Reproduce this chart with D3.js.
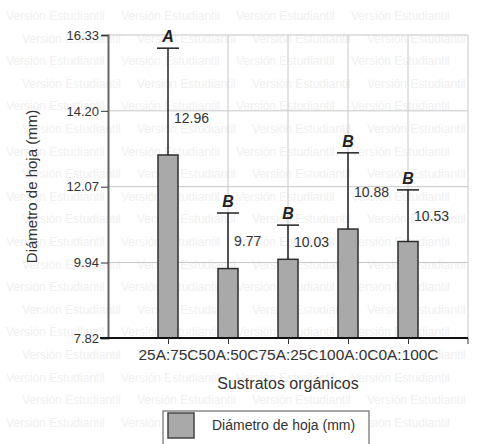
<!doctype html>
<html lang="es">
<head>
  <meta charset="utf-8">
  <title>Diámetro de hoja</title>
  <script src="https://d3js.org/d3.v7.min.js"></script>
  <style>
    body { margin: 0; background: #fff; }
    text { font-family: "Liberation Sans", Arial, sans-serif; }
  </style>
</head>
<body>
  <div id="chart"></div>
  <script type="text/javascript">

    var width = 480, height = 444;

    // datos
    var categories = ['25A:75C', '50A:50C', '75A:25C', '100A:0C', '0A:100C'];
    var means = [12.96, 9.77, 10.03, 10.88, 10.53];
    var errors = [3.00, 1.56, 0.96, 2.14, 1.45];
    var letters = ['A', 'B', 'B', 'B', 'B'];
    var yTicks = [7.82, 9.94, 12.07, 14.20, 16.33];

    var plotLeft = 108, plotRight = 468, plotTop = 35, plotBottom = 338;

    var svg = d3.select('#chart')
                .append('svg')
                .attr('width', width)
                .attr('height', height);

    // marca de agua de fondo (version estudiantil)
    var wm = svg.append('g').attr('fill', '#f0f0f0').attr('font-size', 12);
    for (var r = 0; r < 19; r++) {
      for (var k = 0; k < 4; k++) {
        wm.append('text')
          .attr('x', 6 + k * 115 + (r % 2) * 16)
          .attr('y', 20 + r * 22.6)
          .text('Versión Estudiantil');
      }
    }

    var x = d3.scalePoint()
              .domain(categories)
              .range([plotLeft, plotRight])
              .padding(1);

    var y = d3.scaleLinear()
              .domain([7.82, 16.33])
              .range([plotBottom, plotTop]);

    // rejilla
    var grid = svg.append('g').attr('stroke', '#c8c8c8').attr('stroke-width', 1);
    grid.selectAll('.hgrid')
        .data(yTicks.slice(1))
        .enter()
        .append('line')
        .attr('x1', plotLeft).attr('x2', plotRight)
        .attr('y1', function(d) { return y(d); })
        .attr('y2', function(d) { return y(d); });
    grid.selectAll('.vgrid')
        .data(categories.slice(1).concat(['end']))
        .enter()
        .append('line')
        .attr('x1', function(d) { return d === 'end' ? plotRight : x(d); })
        .attr('x2', function(d) { return d === 'end' ? plotRight : x(d); })
        .attr('y1', plotTop).attr('y2', plotBottom);

    // barras
    var bw = 20;
    svg.selectAll('.bar')
       .data(means)
       .enter()
       .append('rect')
       .attr('class', 'bar')
       .attr('x', function(d, i) { return x(categories[i]) - bw / 2; })
       .attr('y', function(d) { return y(d); })
       .attr('width', bw)
       .attr('height', function(d) { return plotBottom - y(d); })
       .attr('fill', '#a9a9a9')
       .attr('stroke', '#2e2e2e')
       .attr('stroke-width', 1.5);

    // barras de error
    var err = svg.append('g').attr('stroke', '#222').attr('stroke-width', 1.5);
    err.selectAll('.eline')
       .data(means)
       .enter()
       .append('line')
       .attr('x1', function(d, i) { return x(categories[i]); })
       .attr('x2', function(d, i) { return x(categories[i]); })
       .attr('y1', function(d) { return y(d); })
       .attr('y2', function(d, i) { return y(d + errors[i]); });
    err.selectAll('.ecap')
       .data(means)
       .enter()
       .append('line')
       .attr('x1', function(d, i) { return x(categories[i]) - 11; })
       .attr('x2', function(d, i) { return x(categories[i]) + 11; })
       .attr('y1', function(d, i) { return y(d + errors[i]); })
       .attr('y2', function(d, i) { return y(d + errors[i]); });

    // letras de significancia
    svg.selectAll('.letter')
       .data(letters)
       .enter()
       .append('text')
       .attr('x', function(d, i) { return x(categories[i]); })
       .attr('y', function(d, i) { return y(means[i] + errors[i]) - 6; })
       .attr('text-anchor', 'middle')
       .attr('font-size', 16)
       .attr('font-weight', 'bold')
       .attr('font-style', 'italic')
       .attr('fill', '#222')
       .text(function(d) { return d; });

    // valores (junto a la linea de error, algo por debajo del centro)
    svg.selectAll('.val')
       .data(means)
       .enter()
       .append('text')
       .attr('x', function(d, i) { return x(categories[i]) + 6; })
       .attr('y', function(d, i) { return Math.max((y(d) + y(d + errors[i])) / 2, y(d) - 37); })
       .attr('dy', '0.35em')
       .attr('font-size', 14)
       .attr('fill', '#333')
       .text(function(d) { return d.toFixed(2); });

    // eje y
    var yAxis = svg.append('g')
                   .attr('transform', 'translate(' + plotLeft + ',0)')
                   .call(d3.axisLeft(y).tickValues(yTicks).tickFormat(d3.format('.2f')).tickSize(7).tickPadding(2));
    yAxis.select('.domain').attr('stroke', '#666').attr('stroke-width', 2);
    yAxis.selectAll('.tick line').attr('stroke', '#333');
    yAxis.selectAll('.tick text').attr('font-size', 13).attr('fill', '#333')
         .attr('font-family', '"Liberation Sans", Arial, sans-serif');

    // eje x
    var xAxis = svg.append('g')
                   .attr('transform', 'translate(0,' + plotBottom + ')')
                   .call(d3.axisBottom(x).tickSizeOuter(0).tickSize(6).tickPadding(6));
    xAxis.select('.domain').attr('d', 'M' + (plotLeft - 8) + ',0H' + plotRight)
         .attr('stroke', '#111').attr('stroke-width', 2);
    xAxis.selectAll('.tick line').attr('stroke', '#333');
    xAxis.selectAll('.tick text').attr('font-size', 14).attr('fill', '#333')
         .attr('font-family', '"Liberation Sans", Arial, sans-serif')
         .attr('textLength', 60).attr('lengthAdjust', 'spacingAndGlyphs');
    xAxis.append('line')
         .attr('x1', plotRight).attr('x2', plotRight)
         .attr('y1', 0).attr('y2', 6)
         .attr('stroke', '#333');

    // titulos
    svg.append('text')
       .attr('x', 288).attr('y', 389)
       .attr('text-anchor', 'middle')
       .attr('font-size', 16)
       .attr('fill', '#333')
       .text('Sustratos orgánicos');

    svg.append('text')
       .attr('transform', 'translate(37,' + ((plotTop + plotBottom) / 2) + ') rotate(-90)')
       .attr('text-anchor', 'middle')
       .attr('font-size', 15)
       .attr('fill', '#333')
       .text('Diámetro de hoja (mm)');

    // leyenda
    var leg = svg.append('g');
    leg.append('rect')
       .attr('x', 163).attr('y', 411)
       .attr('width', 206).attr('height', 45)
       .attr('fill', '#fff')
       .attr('stroke', '#8a8a8a')
       .attr('stroke-width', 1.5);
    leg.append('rect')
       .attr('x', 168).attr('y', 413)
       .attr('width', 26).attr('height', 25)
       .attr('fill', '#a9a9a9')
       .attr('stroke', '#444')
       .attr('stroke-width', 1.5);
    leg.append('text')
       .attr('x', 212).attr('y', 430)
       .attr('font-size', 14)
       .attr('fill', '#333')
       .text('Diámetro de hoja (mm)');

  </script>
</body>
</html>
